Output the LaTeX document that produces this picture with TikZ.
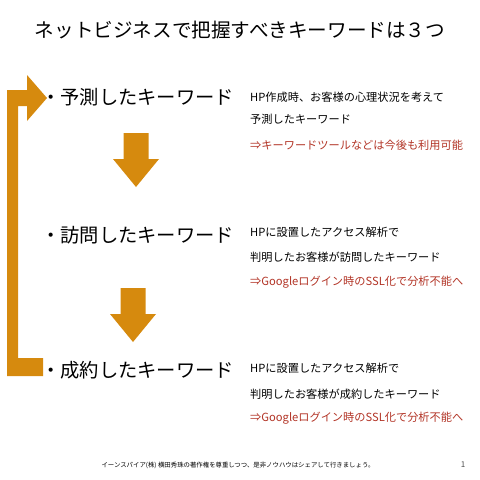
\documentclass[tikz,border=0pt]{standalone}
\usepackage{fontspec}
\setmainfont{Noto Sans CJK JP}
\usetikzlibrary{positioning}
\definecolor{darkorange}{RGB}{214,138,14}
\definecolor{darkred}{RGB}{178,52,38}

\begin{document}
\begin{tikzpicture}[x=1pt,y=-1pt, every node/.style={inner sep=0pt},
  head/.style={anchor=west,font=\fontsize{19.3}{21}\selectfont},
  note/.style={anchor=west,font=\fontsize{11.2}{12}\selectfont},
  warn/.style={note,darkred}]
\useasboundingbox (0,0) rectangle (480,480);

\node (title) at (240,30) {\fontsize{19.6}{22}\selectfont ネットビジネスで把握すべきキーワードは３つ};

\node[head] (k1) at (41,97)  {・予測したキーワード};
\node[head] (k2) at (41,235) {・訪問したキーワード};
\node[head] (k3) at (41,370) {・成約したキーワード};

\node[note] (n1a) at (250,97)  {HP作成時、お客様の心理状況を考えて};
\node[note] (n1b) at (250,119) {予測したキーワード};
\node[warn] (n1c) at (250,145) {⇒キーワードツールなどは今後も利用可能};

\node[note] (n2a) at (250,232) {HPに設置したアクセス解析で};
\node[note] (n2b) at (250,257) {判明したお客様が訪問したキーワード};
\node[warn] (n2c) at (250,282) {⇒Googleログイン時のSSL化で分析不能へ};

\node[note] (n3a) at (250,368) {HPに設置したアクセス解析で};
\node[note] (n3b) at (250,394) {判明したお客様が成約したキーワード};
\node[warn] (n3c) at (250,418) {⇒Googleログイン時のSSL化で分析不能へ};

% return arrow
\fill[darkorange] (27,90) -- (27,75) -- (47,98) -- (27,121) -- (27,106) -- (18,106)
  -- (18,358) -- (43,358) -- (43,376) -- (7,376) -- (7,90) -- cycle;

\foreach \cx/\ty in {% centre/top
	136/133,
	133/288}
	\fill[darkorange] (\cx-12.5,\ty) -- (\cx+12.5,\ty) -- (\cx+12.5,\ty+26) -- (\cx+23,\ty+26)
	  -- (\cx,\ty+54) -- (\cx-23,\ty+26) -- (\cx-12.5,\ty+26) -- cycle;

\node (foot) at (238,465) {\fontsize{6.4}{7}\selectfont イーンスパイア(株) 横田秀珠の著作権を尊重しつつ、是非ノウハウはシェアして行きましょう。};
\node[black!70] (page) at (463,465) {\fontsize{8}{9}\selectfont 1};

\end{tikzpicture}
\end{document}
